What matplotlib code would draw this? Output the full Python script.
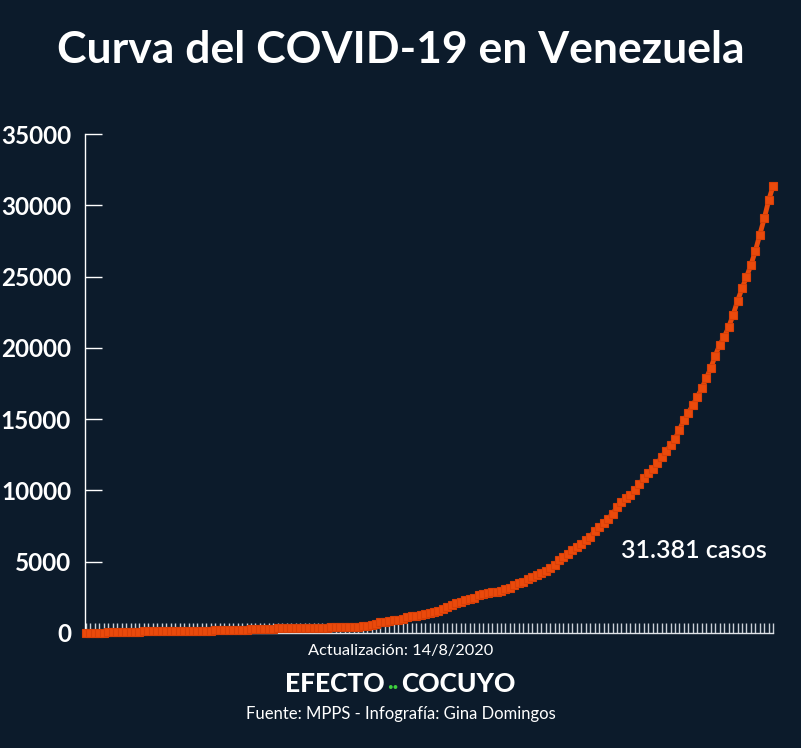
import matplotlib
matplotlib.use("Agg")
import matplotlib.pyplot as plt

# casos acumulados por día, 13/3/2020 - 14/8/2020
casos = [
    2, 10, 17, 33, 33, 36, 42, 42, 70, 77, 77, 84, 91, 107, 107, 119, 119, 135, 135,  # marzo
    143, 146, 153, 155, 159, 165, 167, 171, 171, 175, 181, 181, 189, 189, 193,
    197, 204, 227, 256, 256, 285, 288, 298, 311, 318, 323, 325, 329, 331, 333,  # abril
    335, 345, 357, 361, 379, 381, 388, 402, 414, 422, 423, 440, 455, 459, 504,
    541, 618, 749, 749, 824, 882, 944, 1010, 1121, 1177, 1211, 1245, 1325, 1370,
    1459, 1510,  # mayo
    1662, 1819, 1952, 2087, 2145, 2316, 2377, 2473, 2632, 2738, 2814, 2879, 2904,
    2978, 3062, 3150, 3386, 3483, 3591, 3789, 3917, 4048, 4187, 4366, 4563, 4779,
    5130, 5297, 5530, 5832,  # junio
    6062, 6273, 6537, 6750, 7169, 7411, 7693, 8010, 8372, 8803, 9178, 9465, 9707,
    10010, 10428, 10854, 11191, 11483, 11891, 12334, 12774, 13164, 13613, 14263,
    14929, 15463, 15988, 16571, 17158, 17859, 18574,  # julio
    19443, 20206, 20754, 21438, 22299, 23280, 24166, 24961, 25805, 26800, 27938,
    29088, 30369, 31381,  # agosto
]
dias = list(range(len(casos)))
yticks = [0, 5000, 10000, 15000, 20000, 25000, 30000, 35000]

bg = "#0c1b2b"
naranja = "#ea4a0c"

plt.rcParams["font.family"] = ["Lato", "DejaVu Sans"]

fig = plt.figure(figsize=(8.01, 7.48), dpi=100, facecolor=bg)
ax = fig.add_axes([85 / 801, 115 / 748, 690 / 801, 499 / 748])
ax.set_facecolor(bg)

ax.plot(dias, casos, color=naranja, lw=3.5, marker="s", ms=6.3,
        mfc=naranja, mec="#d84008", mew=0.8, zorder=3, clip_on=False)

ax.set_xlim(-0.2, len(casos) - 1 + 0.4)
ax.set_ylim(0, 35000)
ax.set_yticks(yticks)
ax.set_yticklabels([str(v) for v in yticks])
ax.set_xticks(dias)
ax.set_xticklabels([])

ax.tick_params(axis="y", direction="in", length=12, width=1, color="white",
               labelcolor="white", labelsize=17.5, pad=10)
ax.tick_params(axis="x", direction="in", length=7, width=1, color="#c8ced6")
for lab in ax.get_yticklabels():
    lab.set_fontweight("bold")

for s in ["top", "right"]:
    ax.spines[s].set_visible(False)
ax.spines["left"].set_color("white")
ax.spines["bottom"].set_color("#dfe3e8")
ax.spines["left"].set_linewidth(1)
ax.spines["bottom"].set_linewidth(1)
ax.spines["bottom"].set_bounds(0, len(casos) - 1)

ax.text(0.883, 0.166, "31.381 casos", transform=ax.transAxes, color="white",
        fontsize=18, fontweight="semibold", ha="center", va="center")

fig.text(0.5, 1 - 50 / 748, "Curva del COVID-19 en Venezuela", color="white",
         fontsize=32, fontweight="bold", ha="center", va="center")
fig.text(0.5, 1 - 651 / 748, "Actualización: 14/8/2020", color="white",
         fontsize=11.8, ha="center", va="center")
fig.text(0.5, 1 - 714 / 748, "Fuente: MPPS - Infografía: Gina Domingos",
         color="white", fontsize=12, ha="center", va="center")

# logo
fig.text(385 / 801, 1 - 684 / 748, "EFECTO", color="white", fontsize=19,
         fontweight="black", ha="right", va="center")
fig.text(401 / 801, 1 - 684 / 748, "COCUYO", color="white", fontsize=19,
         fontweight="black", ha="left", va="center")
fig.text(393 / 801, 1 - 687 / 748, "··", color="#3ecf3e", fontsize=15,
         fontweight="bold", ha="center", va="center")

fig.savefig("out.png", dpi=100, facecolor=bg)
